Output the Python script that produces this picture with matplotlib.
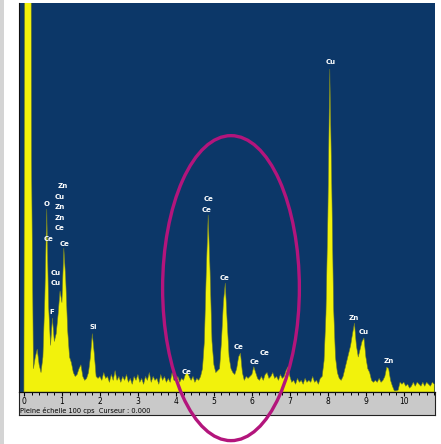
"""EDS spectrum with Ce lines highlighted."""
import numpy as np
import matplotlib.pyplot as plt
from matplotlib.patches import Ellipse, Rectangle

# channel energies (keV), 0.05 keV step, and counts
energy = np.round(np.arange(0, 10.81, 0.05), 2)
counts = [
    # 0.00 - 0.95
    0, 300, 300, 300, 60, 6, 9, 11, 7, 5, 9, 24, 47, 22, 12, 19, 13, 15, 20, 26,
    # 1.00 - 1.95
    23, 37, 29, 16, 9, 7.5, 5, 4, 4.5, 6, 7, 4, 3, 3.5, 5, 9, 15, 10, 4, 3.5,
    # 2.00 - 2.95
    4, 3, 5, 3.5, 4, 2.5, 4.5, 3, 5.5, 3, 4, 2.5, 4, 3, 4.5, 2.5, 3.5, 2, 4, 3,
    # 3.00 - 3.95
    4.5, 2.5, 3.5, 2, 4, 3, 5, 2.5, 4, 3, 3.5, 2, 4.5, 3, 4, 2.5, 3.5, 2.5, 5, 3,
    # 4.00 - 4.95
    3, 4, 2.5, 3.5, 3, 4.5, 5, 4, 3, 4, 2.5, 3.5, 3, 4, 6, 13, 31, 45.5, 31, 13,
    # 5.00 - 5.95
    7, 5, 5.5, 6, 13, 23, 28, 18, 9, 6, 5, 4.5, 6, 9, 10, 5, 3, 4, 3.5, 4,
    # 6.00 - 6.95
    4.5, 6.5, 5, 3.5, 3, 4, 3, 4.5, 5, 3.5, 4, 5, 3.5, 4, 3, 4.5, 3.5, 4, 5.5, 6.5,
    # 7.00 - 7.95
    4, 2.5, 3, 2, 3.5, 2.5, 3, 2, 3.5, 2.5, 3, 2.5, 4, 2.5, 3, 2, 3.5, 4, 8, 20,
    # 8.00 - 8.95
    45, 83, 55, 22, 9, 5, 3.5, 3, 4, 6, 8, 10, 12, 15, 17.7, 12, 9, 11, 13, 13.9,
    # 9.00 - 9.95
    9, 6, 5, 3, 2.5, 3, 2.5, 3.5, 2.5, 3, 4, 6.4, 6, 3, 1.5, 0.3, 0.3, 0.5, 2.5, 2,
    # 10.00 - 10.80
    2.5, 1.5, 2, 1, 1.5, 2.5, 1.5, 2.5, 2, 1.5, 2.5, 1.5, 2.5, 2, 1.5, 2.5, 2,
]

# peak labels: text, energy, height of label centre
lbl_text = ["Zn", "Cu", "O", "Zn", "Zn", "Ce", "Ce", "Ce", "Cu", "Cu", "F", "Si",
            "Ce", "Ce", "Ce", "Ce", "Ce", "Ce", "Ce",
            "Cu", "Zn", "Cu", "Zn"]
lbl_e = [1.03, 0.95, 0.61, 0.95, 0.95, 0.95, 0.66, 1.08, 0.84, 0.84, 0.74, 1.82,
         4.87, 4.82, 5.29, 5.66, 6.08, 6.34, 4.29,
         8.08, 8.68, 8.95, 9.61]
lbl_c = [53.0, 50.1, 48.3, 47.6, 44.7, 42.2, 39.3, 38.0, 30.6, 28.0, 20.6, 16.7,
         49.6, 46.8, 29.3, 11.6, 7.7, 10.0, 5.1,
         84.8, 19.0, 15.4, 8.0]

W, H = 441, 444
BLUE = "#0c3768"
YELLOW = "#f2f20c"

fig = plt.figure(figsize=(W / 100, H / 100), dpi=100, facecolor="white")

# light textured edge on the far left
fig.patches.append(Rectangle((0, 0), 4 / W, 1, transform=fig.transFigure,
                             facecolor="#d4d4d4", edgecolor="none", zorder=0))

# grey strip under the spectrum holding the scale
strip = fig.add_axes([19 / W, (H - 415) / H, (435 - 19) / W, 23 / H])
strip.set_facecolor("#c9c9c9")
strip.set_xticks([])
strip.set_yticks([])
for s in strip.spines.values():
    s.set_color("#222222")
    s.set_linewidth(0.8)

ax = fig.add_axes([19 / W, (H - 392) / H, (435 - 19) / W, (392 - 3) / H])
ax.set_facecolor(BLUE)
ax.fill_between(energy, counts, 0, color=YELLOW, lw=0.4, edgecolor="#6b7a2a")
ax.set_xlim(-0.13, 10.82)
ax.set_ylim(0, 100)
ax.set_yticks([])
ax.set_xticks(range(0, 11))
ax.set_xticks(np.arange(0, 10.81, 0.2), minor=True)
ax.tick_params(axis="x", which="major", direction="out", length=3, width=0.8,
               pad=0.5, labelsize=5.5, colors="black")
ax.tick_params(axis="x", which="minor", direction="out", length=1.8, width=0.7)
for side in ["top", "right"]:
    ax.spines[side].set_visible(False)
for side in ["left", "bottom"]:
    ax.spines[side].set_color("#111111")
    ax.spines[side].set_linewidth(0.8)

for t, e, c in zip(lbl_text, lbl_e, lbl_c):
    ax.text(e, c, t, color="white", fontsize=5, fontweight="bold",
            ha="center", va="center")

fig.text(20 / W, 1 - 410 / H, "Pleine échelle 100 cps  Curseur : 0.000",
         fontsize=4.8, color="black", va="center")

# highlight of the Ce L lines
ax.add_patch(Ellipse((5.45, 26.7), 3.6, 78.4, fill=False, edgecolor="#b3157c",
                     lw=2.4, clip_on=False, zorder=5))

plt.savefig("out.png", dpi=100, facecolor="white")
